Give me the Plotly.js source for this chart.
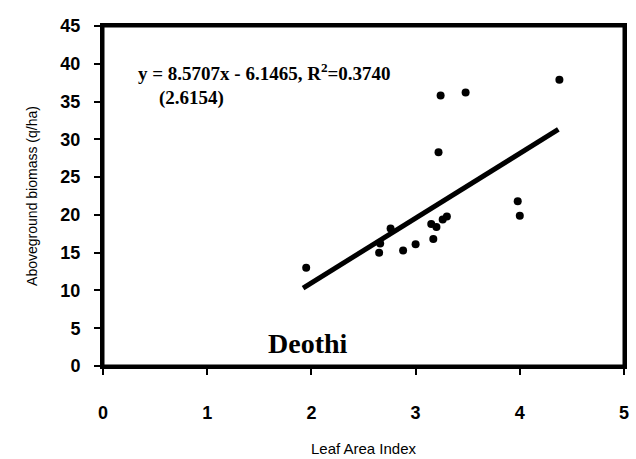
<!DOCTYPE html>
<html>
<head>
<meta charset="utf-8">
<script src="https://cdn.plot.ly/plotly-3.0.1.min.js"></script>
<style>html,body{margin:0;padding:0;background:#fff;}#chart{width:636px;height:459px;}</style>
</head>
<body>
<div id="chart"></div>
<script>
// Observed points (Leaf Area Index vs aboveground biomass, q/ha)
const lai = [1.95, 2.65, 2.66, 2.76, 2.88, 3.00, 3.15, 3.17, 3.20, 3.22, 3.24, 3.26, 3.30, 3.48, 3.98, 4.00, 4.38];
const biomass = [13.0, 15.0, 16.2, 18.2, 15.3, 16.1, 18.8, 16.8, 18.4, 28.3, 35.8, 19.4, 19.8, 36.2, 21.8, 19.9, 37.9];
// Regression line x range and coefficients
const fitX = [1.92, 4.37];
const slope = 8.5707;
const intercept = -6.1465;
const fitY = fitX.map(v => slope * v + intercept);
const xTicks = [0, 1, 2, 3, 4, 5];
const yTicks = [0, 5, 10, 15, 20, 25, 30, 35, 40, 45];
const eqLine1 = "y = 8.5707x - 6.1465, R<sup>2</sup>=0.3740";
const eqLine2 = "(2.6154)";
const siteName = "Deothi";

const traces = [
  {x: lai, y: biomass, mode: 'markers', type: 'scatter',
   marker: {color: '#000', size: 8}, hoverinfo: 'none'},
  {x: fitX, y: fitY, mode: 'lines', type: 'scatter',
   line: {color: '#000', width: 5}, hoverinfo: 'none'}
];

const tickFont = {family: 'Liberation Sans, Arial, sans-serif', size: 18, color: '#000', weight: 'bold'};
const serif = 'Liberation Serif, Times New Roman, serif';
const layout = {
  width: 636, height: 459,
  margin: {l: 103, r: 12, t: 26, b: 93},
  paper_bgcolor: '#fff', plot_bgcolor: '#fff',
  showlegend: false,
  xaxis: {
    range: [0, 5], tickvals: xTicks, ticktext: xTicks.map(String),
    showgrid: false, zeroline: false, showline: true, mirror: true,
    linecolor: '#000', linewidth: 3, ticks: 'outside', ticklen: 6, tickwidth: 2, tickcolor: '#000',
    tickfont: tickFont, ticklabelstandoff: 22,
    title: {text: 'Leaf Area Index', font: {family: 'Liberation Sans, Arial, sans-serif', size: 15, color: '#000'}, standoff: 22}
  },
  yaxis: {
    range: [0, 45], tickvals: yTicks, ticktext: yTicks.map(String),
    showgrid: false, zeroline: false, showline: true, mirror: true,
    linecolor: '#000', linewidth: 3, ticks: 'outside', ticklen: 6, tickwidth: 2, tickcolor: '#000',
    tickfont: tickFont, ticklabelstandoff: 10,
    title: {text: 'Aboveground biomass (q/ha)', font: {family: 'Liberation Sans, Arial, sans-serif', size: 14, color: '#000'}, standoff: 20}
  },
  shapes: [
    {type: 'rect', xref: 'paper', yref: 'paper', x0: 0, x1: 1, y0: 0, y1: 1,
     line: {color: '#000', width: 3}, fillcolor: 'rgba(0,0,0,0)', layer: 'above'}
  ],
  annotations: [
    {xref: 'paper', yref: 'paper', x: (136 - 103) / 521, y: (366 - 72) / 340, xanchor: 'left', yanchor: 'middle',
     text: '<b>' + eqLine1 + '</b>', showarrow: false,
     font: {family: serif, size: 19, color: '#000'}},
    {xref: 'paper', yref: 'paper', x: (157 - 103) / 521, y: (366 - 98) / 340, xanchor: 'left', yanchor: 'middle',
     text: '<b>' + eqLine2 + '</b>', showarrow: false,
     font: {family: serif, size: 19, color: '#000'}},
    {xref: 'x', yref: 'y', x: 1.97, y: 3.0, xanchor: 'center', yanchor: 'middle',
     text: '<b>' + siteName + '</b>', showarrow: false,
     font: {family: serif, size: 28, color: '#000'}}
  ]
};

Plotly.newPlot('chart', traces, layout, {displayModeBar: false, staticPlot: true});
</script>
</body>
</html>
